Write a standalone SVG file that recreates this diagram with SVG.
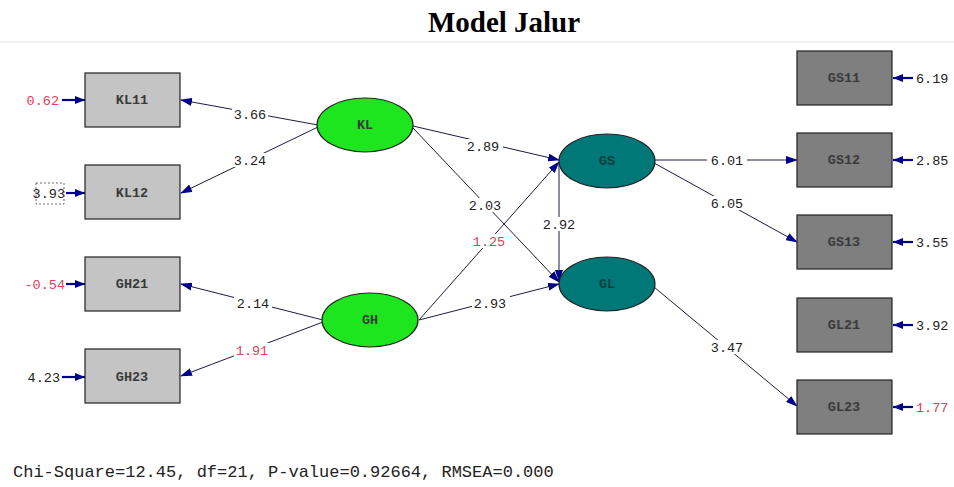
<svg xmlns="http://www.w3.org/2000/svg" width="954" height="487" viewBox="0 0 954 487">
<defs>
<style>
.title{font-family:"Liberation Serif","Times New Roman",serif;font-weight:bold;font-size:29px;fill:#000}
.lbl{font-family:"Liberation Mono","Courier New",monospace;font-size:13.5px;fill:#222}
.red{fill:#e0405a}
.btxt{font-family:"Liberation Mono","Courier New",monospace;font-size:13.5px;font-weight:bold;fill:#3a3a3a;text-anchor:middle}
.lbox{fill:#c4c4c4;stroke:#222;stroke-width:1.2}
.rbox{fill:#7f7f7f;stroke:#222;stroke-width:1.2}
.lv{fill:#1ee61e;stroke:#222;stroke-width:1.2}
.ev{fill:#007878;stroke:#222;stroke-width:1.2}
.path{stroke:#1c1c40;stroke-width:1;fill:none;marker-end:url(#ah)}
.err{stroke:#00008a;stroke-width:2.2;fill:none;marker-end:url(#eh)}
.bg{fill:#fff}
.fit{font-family:"Liberation Mono","Courier New",monospace;font-size:17px;fill:#222}
</style>
<marker id="ah" markerUnits="userSpaceOnUse" markerWidth="12" markerHeight="8" refX="11" refY="4" orient="auto"><path d="M0,0 L12,4 L0,8 z" fill="#00008a"/></marker>
<marker id="eh" markerUnits="userSpaceOnUse" markerWidth="10" markerHeight="8" refX="10" refY="4" orient="auto"><path d="M0,0 L10,4 L0,8 z" fill="#00008a"/></marker>
</defs>
<rect width="954" height="487" fill="#fff"/>
<text class="title" x="504" y="32" text-anchor="middle">Model Jalur</text>
<line x1="0" y1="42" x2="954" y2="42" stroke="#ececec" stroke-width="1.5"/>

<g id="connectors">
<line class="path" x1="318" y1="125" x2="181" y2="100"/>
<line class="path" x1="318" y1="127" x2="181" y2="193"/>
<line class="path" x1="323" y1="320" x2="181" y2="284"/>
<line class="path" x1="323" y1="322" x2="181" y2="376"/>
<line class="path" x1="413" y1="126" x2="559" y2="160"/>
<line class="path" x1="413" y1="128" x2="559" y2="282"/>
<line class="path" x1="419" y1="320" x2="559" y2="162"/>
<line class="path" x1="419" y1="320" x2="559" y2="284"/>
<line class="path" x1="559" y1="163" x2="559" y2="281"/>
<line class="path" x1="655" y1="160" x2="797" y2="160"/>
<line class="path" x1="654" y1="163" x2="797" y2="242"/>
<line class="path" x1="654" y1="287" x2="797" y2="406"/>
<line class="err" x1="62" y1="100" x2="85" y2="100"/>
<line class="err" x1="66" y1="193" x2="85" y2="193"/>
<line class="err" x1="66" y1="284" x2="85" y2="284"/>
<line class="err" x1="62" y1="377" x2="85" y2="377"/>
<line class="err" x1="913" y1="78" x2="893" y2="78"/>
<line class="err" x1="913" y1="160" x2="893" y2="160"/>
<line class="err" x1="913" y1="242" x2="893" y2="242"/>
<line class="err" x1="913" y1="325" x2="893" y2="325"/>
<line class="err" x1="913" y1="407" x2="893" y2="407"/>
<g id="path-labels">
<rect class="bg" x="232" y="107" width="36" height="14"/><text class="lbl" x="250" y="119" text-anchor="middle">3.66</text>
<rect class="bg" x="232" y="153" width="36" height="14"/><text class="lbl" x="250" y="165" text-anchor="middle">3.24</text>
<rect class="bg" x="465" y="139" width="38" height="14"/><text class="lbl" x="483" y="151" text-anchor="middle">2.89</text>
<rect class="bg" x="467" y="198" width="36" height="14"/><text class="lbl" x="485" y="210" text-anchor="middle">2.03</text>
<rect class="bg" x="541" y="217" width="36" height="14"/><text class="lbl" x="559" y="229" text-anchor="middle">2.92</text>
<rect class="bg" x="471" y="234" width="36" height="14"/><text class="lbl red" x="489" y="246" text-anchor="middle">1.25</text>
<rect class="bg" x="472" y="296" width="38" height="14"/><text class="lbl" x="490" y="308" text-anchor="middle">2.93</text>
<rect class="bg" x="234" y="296" width="38" height="14"/><text class="lbl" x="253" y="308" text-anchor="middle">2.14</text>
<rect class="bg" x="234" y="343" width="36" height="14"/><text class="lbl red" x="252" y="355" text-anchor="middle">1.91</text>
<rect class="bg" x="707" y="153" width="40" height="14"/><text class="lbl" x="727" y="165" text-anchor="middle">6.01</text>
<rect class="bg" x="709" y="196" width="36" height="14"/><text class="lbl" x="727" y="208" text-anchor="middle">6.05</text>
<rect class="bg" x="709" y="340" width="36" height="14"/><text class="lbl" x="727" y="352" text-anchor="middle">3.47</text>
</g>
</g>

<g id="KL11"><rect class="lbox" x="85" y="73" width="95" height="54"/><text class="btxt" x="132" y="104">KL11</text></g>
<g id="KL12"><rect class="lbox" x="85" y="165" width="95" height="54"/><text class="btxt" x="132" y="197">KL12</text></g>
<g id="GH21"><rect class="lbox" x="85" y="257" width="95" height="54"/><text class="btxt" x="132" y="288">GH21</text></g>
<g id="GH23"><rect class="lbox" x="85" y="349" width="95" height="54"/><text class="btxt" x="132" y="381">GH23</text></g>

<g id="GS11"><rect class="rbox" x="797" y="51" width="95" height="54"/><text class="btxt" x="844" y="82">GS11</text></g>
<g id="GS12"><rect class="rbox" x="797" y="133" width="95" height="54"/><text class="btxt" x="844" y="164">GS12</text></g>
<g id="GS13"><rect class="rbox" x="797" y="215" width="95" height="54"/><text class="btxt" x="844" y="246">GS13</text></g>
<g id="GL21"><rect class="rbox" x="797" y="298" width="95" height="54"/><text class="btxt" x="844" y="329">GL21</text></g>
<g id="GL23"><rect class="rbox" x="797" y="380" width="95" height="54"/><text class="btxt" x="844" y="411">GL23</text></g>

<g id="KL"><ellipse class="lv" cx="365" cy="125" rx="48" ry="27"/><text class="btxt" x="365" y="129">KL</text></g>
<g id="GH"><ellipse class="lv" cx="370" cy="320" rx="48" ry="27"/><text class="btxt" x="370" y="324">GH</text></g>
<g id="GS"><ellipse class="ev" cx="607" cy="161" rx="48" ry="27"/><text class="btxt" x="607" y="165" style="fill:#0a4040">GS</text></g>
<g id="GL"><ellipse class="ev" cx="607" cy="284" rx="48" ry="27"/><text class="btxt" x="607" y="288" style="fill:#0a4040">GL</text></g>

<g id="error-labels">
<text class="lbl red" x="59" y="105" text-anchor="end">0.62</text>
<text class="lbl" x="65" y="198" text-anchor="end">3.93</text>
<rect x="36" y="183" width="28" height="21" fill="none" stroke="#444" stroke-width="0.8" stroke-dasharray="2,2"/>
<text class="lbl red" x="65" y="289" text-anchor="end">-0.54</text>
<text class="lbl" x="60" y="382" text-anchor="end">4.23</text>
<text class="lbl" x="916" y="83">6.19</text>
<text class="lbl" x="916" y="165">2.85</text>
<text class="lbl" x="916" y="247">3.55</text>
<text class="lbl" x="916" y="330">3.92</text>
<text class="lbl red" x="916" y="412">1.77</text>
</g>

<text class="fit" x="13" y="477">Chi-Square=12.45, df=21, P-value=0.92664, RMSEA=0.000</text>
</svg>
